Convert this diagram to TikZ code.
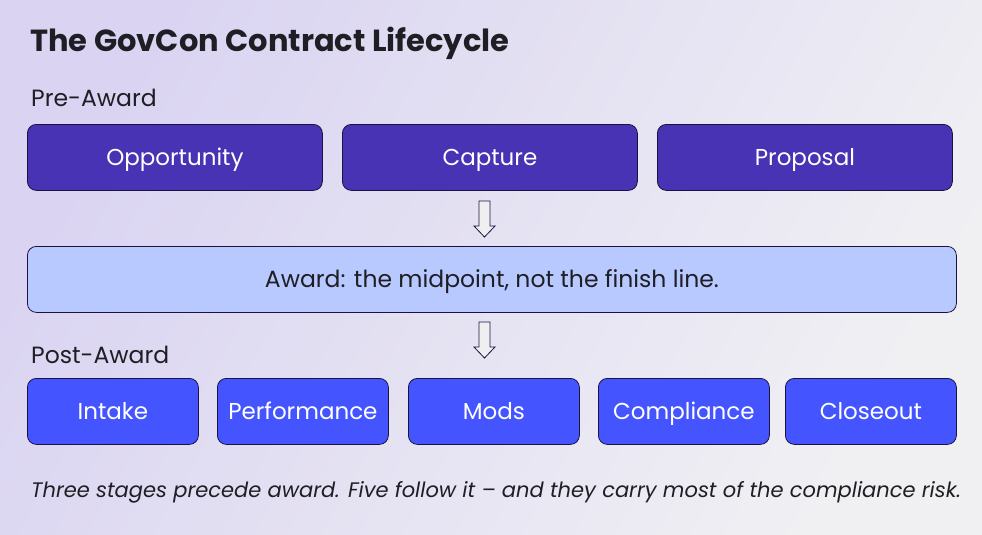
\documentclass[tikz,border=0pt]{standalone}
\usepackage{fontspec}
\setmainfont{Poppins}
\usetikzlibrary{calc}
\definecolor{bgA}{HTML}{DAD4F2}
\definecolor{bgB}{HTML}{F0F0F3}
\definecolor{preC}{HTML}{4733B3}
\definecolor{postC}{HTML}{4455FF}
\definecolor{awardC}{HTML}{B8C9FF}
\definecolor{edgeC}{HTML}{1B1240}
\definecolor{inkC}{HTML}{1E1E24}
\definecolor{arrowC}{HTML}{EFEFF2}
\begin{document}
\begin{tikzpicture}[x=1pt,y=-1pt,
  stagebox/.style={draw=edgeC, line width=0.8pt, rounded corners=9pt, anchor=north west,
    minimum height=66pt, inner sep=0pt, text=white, text height=17pt, text depth=-1pt,
    font=\fontsize{23}{27}\selectfont},
  prebox/.style={stagebox, fill=preC, minimum width=295pt},
  postbox/.style={stagebox, fill=postC, minimum width=171pt},
  awardbox/.style={stagebox, fill=awardC, minimum width=929pt, text=inkC, font=\fontsize{23.5}{27}\selectfont},
  label/.style={anchor=base west, inner sep=0pt, text=inkC, font=\fontsize{23.5}{27}\selectfont},
  hollow/.style={draw=edgeC, line width=0.8pt, fill=arrowC, line join=miter},
]
\useasboundingbox (0,0) rectangle (982,535);
\shade[shading=axis, top color=bgA, bottom color=bgB, shading angle=60] (0,0) rectangle (982,535);

\node[anchor=base west, inner sep=0pt, text=inkC, font=\bfseries\fontsize{30.5}{34}\selectfont] (title) at (30,52) {The GovCon Contract Lifecycle};
\node[label] (pre) at (31,106) {Pre-Award};

\node[prebox] (opp) at (27,124) {Opportunity};
\node[prebox] (cap) at (342,124) {Capture};
\node[prebox] (prop) at (657,124) {Proposal};

\node[awardbox] (award) at (27,246) {Award: the midpoint, not the finish line.};

\node[label] (post) at (31,363) {Post-Award};

\node[postbox] (intake) at (27,378) {Intake};
\node[postbox] (perf) at (217,378) {Performance};
\node[postbox] (mods) at (408,378) {Mods};
\node[postbox] (comp) at (598,378) {Compliance};
\node[postbox] (close) at (785,378) {Closeout};

\node[anchor=base west, inner sep=0pt, text=inkC, font=\itshape\fontsize{21}{25}\selectfont] (note) at (31,497)
  {Three stages precede award. Five follow it – and they carry most of the compliance risk.};

% hollow arrows
\coordinate (a1) at (484.5,201);
\coordinate (a2) at (484.5,322);
\foreach \c in {a1,a2}{
  \draw[hollow] ($(\c)+(-5.5,0)$) -- ($(\c)+(5.5,0)$) -- ($(\c)+(5.5,25)$) -- ($(\c)+(10.5,25)$)
    -- ($(\c)+(0,36)$) -- ($(\c)+(-10.5,25)$) -- ($(\c)+(-5.5,25)$) -- cycle;
}
\end{tikzpicture}
\end{document}
